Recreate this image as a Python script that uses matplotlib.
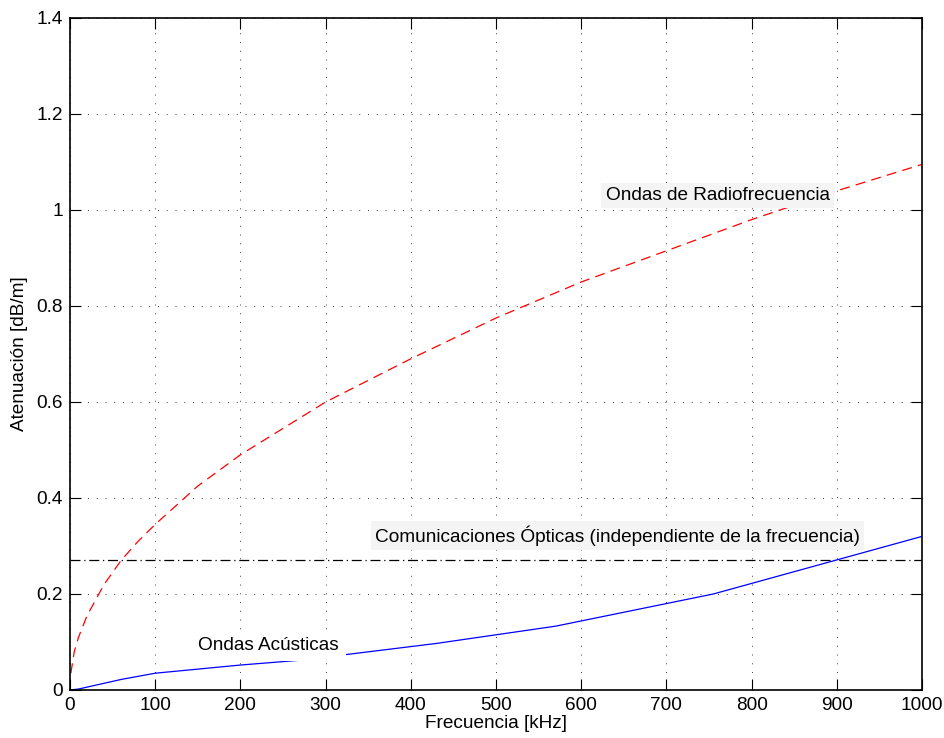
import matplotlib
matplotlib.use("Agg")
import matplotlib.pyplot as plt

plt.rcParams['font.family'] = ['Liberation Sans', 'DejaVu Sans']

# frequency axis in kHz, attenuation in dB/m
f_radio = [1, 5, 10, 20, 40, 60, 80, 100, 150, 200, 300, 400, 500, 600, 700, 800, 900, 1000]
a_radio = [0.035, 0.08, 0.11, 0.155, 0.22, 0.27, 0.31, 0.345, 0.425, 0.49, 0.60, 0.69,
           0.775, 0.85, 0.915, 0.98, 1.04, 1.095]

f_acust = [0, 10, 30, 60, 100, 200, 270, 430, 570, 755, 1000]
a_acust = [0, 0.002, 0.01, 0.022, 0.035, 0.052, 0.062, 0.097, 0.133, 0.2, 0.32]

f_opt = [0, 1000]
a_opt = [0.27, 0.27]

xticks = list(range(0, 1001, 100))
yticks = [0, 0.2, 0.4, 0.6, 0.8, 1, 1.2, 1.4]

fs = 13.7

fig = plt.figure(figsize=(9.45, 7.38), dpi=100)
ax = fig.add_axes([70 / 945, 48 / 738, 852 / 945, 672 / 738])

ax.plot(f_radio, a_radio, color='red', linestyle=(0, (8, 5)), linewidth=0.9)
ax.plot(f_opt, a_opt, color='black', linestyle=(0, (8, 3, 1, 3)), linewidth=0.9)
ax.plot(f_acust, a_acust, color='blue', linestyle='-', linewidth=0.9)

box_grey = dict(facecolor='#f4f4f4', edgecolor='none', pad=3)
ax.text(760, 1.03, 'Ondas de Radiofrecuencia', ha='center', va='center',
        fontsize=fs, bbox=box_grey)
ax.text(643, 0.322, 'Comunicaciones Ópticas (independiente de la frecuencia)',
        ha='center', va='center', fontsize=fs, bbox=box_grey)
# white box hides the acoustic curve behind the label
ax.text(233, 0.093, 'Ondas Acústicas', ha='center', va='center', fontsize=fs,
        bbox=dict(facecolor='white', edgecolor='none', pad=5))

ax.set_xlim(0, 1000)
ax.set_ylim(0, 1.4)
ax.set_xticks(xticks)
ax.set_yticks(yticks)
ax.set_yticklabels(['0', '0.2', '0.4', '0.6', '0.8', '1', '1.2', '1.4'])
ax.tick_params(direction='in', length=8, width=0.8, labelsize=fs, top=True, right=True,
               pad=5)
ax.grid(True, linestyle=(0, (1, 8)), color='#404040', linewidth=0.7)
for s in ax.spines.values():
    s.set_linewidth(1.2)

ax.set_xlabel('Frecuencia [kHz]', fontsize=fs, labelpad=1)
ax.set_ylabel('Atenuación [dB/m]', fontsize=fs, labelpad=6)

fig.savefig('out.png', dpi=100)
